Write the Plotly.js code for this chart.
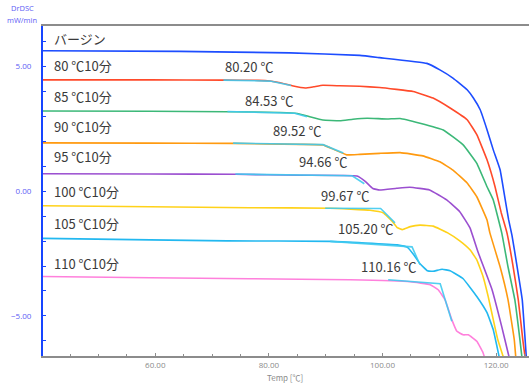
<!DOCTYPE html>
<html>
<head>
<meta charset="utf-8">
<script src="https://cdn.plot.ly/plotly-3.0.1.min.js"></script>
<style>
  html, body { margin: 0; padding: 0; background: #fff; }
  #chart { width: 529px; height: 383px; }
</style>
</head>
<body>
<div id="chart"></div>
<script>
// DrDSC curves after annealing at each temperature for 10 minutes
const seriesNames = ['バージン', '80 ℃10分', '85 ℃10分', '90 ℃10分', '95 ℃10分', '100 ℃10分', '105 ℃10分', '110 ℃10分'];
const seriesColors = ['#1d4dff', '#ff4a2a', '#3cb878', '#ff9a10', '#9b4fd0', '#ffd21a', '#22b8f0', '#ff80dc'];

const virginT = [40.23, 64.3, 83.7, 96.0, 99.5, 107.8, 110.1, 112.4, 114.9, 116.0, 117.2, 118.4, 119.5, 120.7, 121.6, 122.2, 122.8, 123.7, 124.6, 125.3, 125.5];
const virginV = [5.64, 5.61, 5.55, 5.45, 5.36, 5.13, 4.87, 4.54, 4.07, 3.74, 3.27, 2.47, 1.66, 0.86, -0.34, -1.14, -1.78, -3.03, -4.35, -6.60, -7.16];

const a80T = [40.23, 59.1, 72.0, 78.1, 80.2, 82.0, 84.1, 86.4, 87.9, 89.5, 92.5, 96.0, 99.5, 105.4, 108.9, 111.9, 114.9, 116.6, 118.4, 119.8, 120.9, 121.9, 123.0, 123.9, 124.7, 125.2];
const a80V = [4.47, 4.47, 4.46, 4.45, 4.42, 4.35, 4.23, 4.14, 4.19, 4.25, 4.23, 4.21, 4.16, 4.00, 3.74, 3.34, 2.87, 2.27, 1.26, 0.19, -0.86, -1.66, -3.03, -4.35, -5.96, -6.85];

const a85T = [40.23, 59.1, 72.7, 82.0, 85.0, 87.2, 89.5, 92.5, 94.8, 97.3, 100.8, 103.1, 106.6, 110.7, 114.2, 116.6, 118.4, 119.5, 121.0, 122.1, 123.3, 124.2, 124.6];
const a85V = [3.22, 3.21, 3.19, 3.16, 3.12, 2.99, 2.86, 2.83, 2.89, 2.93, 2.90, 2.92, 2.73, 2.46, 1.86, 1.12, 0.18, -0.35, -1.68, -3.04, -4.36, -5.97, -6.77];

const a90T = [40.23, 59.1, 73.7, 85.5, 89.5, 91.6, 93.7, 96.0, 99.5, 103.1, 107.1, 110.1, 112.4, 114.9, 116.6, 118.4, 118.9, 120.7, 122.1, 123.2, 123.5];
const a90V = [1.94, 1.93, 1.92, 1.88, 1.86, 1.66, 1.46, 1.48, 1.52, 1.55, 1.42, 1.18, 0.85, 0.33, -0.22, -1.15, -1.67, -3.03, -4.36, -5.96, -6.77];

const a95T = [40.23, 59.1, 74.1, 85.5, 95.5, 96.9, 98.3, 99.5, 102.5, 104.8, 108.3, 111.3, 113.6, 115.4, 116.8, 119.3, 121.0, 122.1, 122.5];
const a95V = [0.70, 0.69, 0.68, 0.64, 0.61, 0.41, 0.11, 0.05, 0.12, 0.16, 0.05, -0.35, -0.82, -1.47, -2.43, -3.96, -5.44, -6.48, -6.85];

const a100T = [40.23, 59.1, 76.7, 90.8, 97.8, 100.1, 101.7, 102.6, 103.5, 104.9, 106.6, 108.9, 111.4, 113.6, 115.4, 116.6, 117.7, 118.6, 119.5, 120.3, 121.2, 121.5];
const a100V = [-0.58, -0.62, -0.66, -0.68, -0.76, -0.86, -1.20, -1.46, -1.54, -1.42, -1.36, -1.40, -1.66, -1.99, -2.35, -2.75, -3.42, -4.22, -5.15, -5.96, -6.60, -6.85];

const a105T = [40.23, 59.1, 72.6, 90.8, 102.6, 104.4, 105.5, 106.6, 107.9, 108.9, 110.5, 111.9, 114.2, 116.6, 118.4, 119.5, 120.5, 120.8];
const a105V = [-1.89, -1.95, -1.99, -2.01, -2.15, -2.25, -2.55, -2.91, -3.19, -3.21, -3.13, -3.19, -3.51, -4.22, -4.87, -5.56, -6.60, -6.90];

const a110T = [40.23, 59.1, 76.7, 94.3, 104.9, 108.4, 109.8, 111.0, 112.2, 113.1, 114.2, 115.1, 116.6, 117.7, 118.2];
const a110V = [-3.42, -3.47, -3.51, -3.55, -3.63, -3.75, -3.95, -4.35, -5.15, -5.62, -5.76, -5.76, -6.02, -6.48, -6.85];

const curveT = [virginT, a80T, a85T, a90T, a95T, a100T, a105T, a110T];
const curveV = [virginV, a80V, a85V, a90V, a95V, a100V, a105V, a110V];

// Glass transition temperatures, one per annealed sample
const tgValues = [80.20, 84.53, 89.52, 94.66, 99.67, 105.20, 110.16];
// Tangent construction: baseline start, corner at Tg, end of the step tangent
const tanStartT = [72.0, 72.7, 73.7, 74.1, 89.9, 90.8, 101.0];
const tanStartV = [4.46, 3.20, 1.93, 0.69, -0.68, -2.01, -3.55];
const tanCornerV = [4.42, 3.13, 1.87, 0.62, -0.69, -2.23, -3.71];
const tanEndT = [83.9, 86.7, 93.1, 96.8, 102.2, 106.6, 112.2];
const tanEndV = [4.24, 2.99, 1.53, 0.30, -1.27, -2.95, -5.22];

// Label positions
const nameLabelY = [6.11, 5.03, 3.82, 2.58, 1.38, -0.01, -1.31, -2.89];
const tgLabelT = [76.41, 80.02, 84.86, 89.44, 93.40, 97.18, 101.14];
const tgLabelV = [5.00, 3.66, 2.43, 1.19, -0.18, -1.48, -3.00];

const traces = [];
for (let i = 0; i < seriesNames.length; i++) {
  traces.push({
    type: 'scatter', mode: 'lines', name: seriesNames[i],
    x: curveT[i], y: curveV[i],
    line: { color: seriesColors[i], width: 1.6, shape: 'spline', smoothing: 0.3 },
    hoverinfo: 'skip'
  });
}
for (let i = 0; i < tgValues.length; i++) {
  traces.push({
    type: 'scatter', mode: 'lines',
    x: [tanStartT[i], tgValues[i], tanEndT[i]],
    y: [tanStartV[i], tanCornerV[i], tanEndV[i]],
    line: { color: '#3fcaf0', width: 1.6 },
    opacity: 0.9, hoverinfo: 'skip'
  });
}

const textFont = { family: '"Noto Sans CJK JP", "Noto Sans", sans-serif', size: 13, color: '#3a3a3a' };
const annotations = [];
for (let i = 0; i < seriesNames.length; i++) {
  annotations.push({
    x: 41.81, y: nameLabelY[i], xref: 'x', yref: 'y', text: seriesNames[i],
    showarrow: false, xanchor: 'left', yanchor: 'middle', font: textFont
  });
}
for (let i = 0; i < tgValues.length; i++) {
  annotations.push({
    x: tgLabelT[i], y: tgLabelV[i], xref: 'x', yref: 'y',
    text: tgValues[i].toFixed(2) + ' ℃',
    showarrow: false, xanchor: 'center', yanchor: 'middle', font: textFont
  });
}
const unitFont = { family: '"Open Sans", "Noto Sans", sans-serif', size: 7.5, color: '#5c5cf5' };
annotations.push({ x: -0.0432, y: 1.055, xref: 'paper', yref: 'paper', text: 'DrDSC', showarrow: false, xanchor: 'center', yanchor: 'middle', font: unitFont, borderpad: 0 });
annotations.push({ x: -0.0432, y: 1.019, xref: 'paper', yref: 'paper', text: 'mW/min', showarrow: false, xanchor: 'center', yanchor: 'middle', font: unitFont, borderpad: 0 });
// Temperature axis caption
annotations.push({ x: 0.498, y: -0.064, xref: 'paper', yref: 'paper', text: 'Temp [℃]', showarrow: false, xanchor: 'center', yanchor: 'middle', borderpad: 0,
  font: { family: '"Noto Sans CJK JP", "Open Sans", sans-serif', size: 8, color: '#8a8a8a' } });

const layout = {
  width: 529, height: 383,
  margin: { l: 43, r: 0, t: 26, b: 27, pad: 0 },
  paper_bgcolor: '#ffffff', plot_bgcolor: '#ffffff',
  showlegend: false,
  xaxis: {
    range: [40.23, 125.79], showgrid: false, zeroline: false,
    showline: true, linecolor: '#8c8c8c', linewidth: 2, mirror: true,
    ticks: 'inside', ticklen: 3, tickcolor: '#8c8c8c', tickwidth: 1,
    tick0: 0, dtick: 20, tickformat: '.2f', ticklabelstandoff: 0,
    tickfont: { family: '"Open Sans", "Noto Sans", sans-serif', size: 8, color: '#8a8a8a' },
    minor: { dtick: 5, ticks: 'inside', ticklen: 2, tickcolor: '#8c8c8c', showgrid: false },
    automargin: false, fixedrange: true
  },
  yaxis: {
    range: [-6.61, 6.63], showgrid: false, zeroline: false,
    showline: true, linecolor: '#1745ff', linewidth: 2, mirror: false,
    ticks: 'inside', ticklen: 3, tickcolor: '#1745ff', tickwidth: 1,
    tick0: 0, dtick: 5, tickformat: '.2f', ticklabelstandoff: 8,
    tickfont: { family: '"Open Sans", "Noto Sans", sans-serif', size: 8, color: '#5c5cf5' },
    minor: { dtick: 1, ticks: 'inside', ticklen: 3, tickcolor: '#1745ff', showgrid: false },
    automargin: false, fixedrange: true
  },
  annotations: annotations
};

Plotly.newPlot('chart', traces, layout, { staticPlot: true, displayModeBar: false });
</script>
</body>
</html>
